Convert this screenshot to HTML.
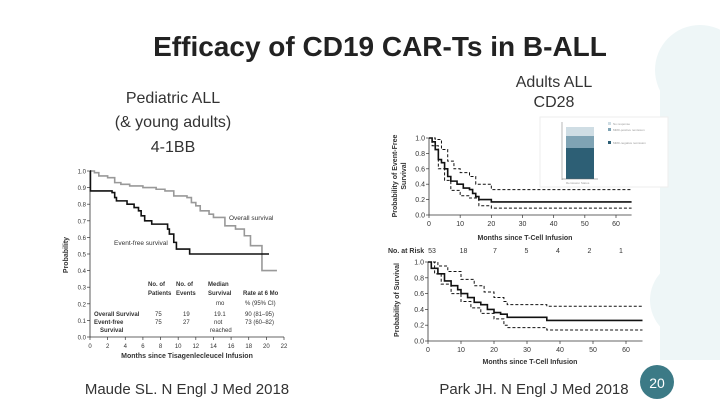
<!DOCTYPE html>
<html><head><meta charset="utf-8"><style>
body{margin:0;width:720px;height:405px;overflow:hidden;background:#fff;font-family:"Liberation Sans",sans-serif}
svg{position:absolute;left:0;top:0}
</style></head><body>
<svg id="s" width="720" height="405" viewBox="0 0 720 405">
<g fill="#eef6f7">
<circle cx="700" cy="70" r="45"/><circle cx="705" cy="190" r="45"/><circle cx="690" cy="300" r="40"/><rect x="660" y="70" width="60" height="290"/>
</g>
<rect x="150" y="160" width="160" height="190" fill="#fff"/>
<rect x="390" y="110" width="250" height="260" fill="#fff"/>
<text x="380" y="56" text-anchor="middle" font-size="28" font-weight="bold" fill="#222" font-family="Liberation Sans">Efficacy of CD19 CAR-Ts in B-ALL</text>
<g font-size="16" fill="#333" text-anchor="middle">
<text x="173" y="103">Pediatric ALL</text><text x="173" y="127">(&amp; young adults)</text><text x="173" y="152">4-1BB</text></g>
<g font-size="16" fill="#333" text-anchor="middle">
<text x="554" y="87">Adults ALL</text><text x="554" y="107">CD28</text></g>
<text x="187" y="394" text-anchor="middle" font-size="15" fill="#333">Maude SL. N Engl J Med 2018</text>
<text x="534" y="394" text-anchor="middle" font-size="15" fill="#333">Park JH. N Engl J Med 2018</text>
<circle cx="657" cy="382" r="17" fill="#3c7a86"/>
<text x="657" y="388" text-anchor="middle" font-size="14" fill="#fff">20</text>
<g id="L"></g><g id="R1"></g><g id="R2"></g>
<g>
<rect x="540" y="117" width="128" height="70" fill="#fff" stroke="#eee"/>
<line x1="562" y1="122" x2="562" y2="180" stroke="#888" stroke-width="0.6"/>
<rect x="566" y="127" width="28" height="9" fill="#cfdde4"/>
<rect x="566" y="136" width="28" height="12" fill="#7fa3b4"/>
<rect x="566" y="148" width="28" height="31" fill="#2d5f75"/>
<line x1="562" y1="179" x2="598" y2="179" stroke="#666" stroke-width="0.6"/>
<rect x="608" y="122" width="3" height="3" fill="#cfdde4"/><rect x="608" y="128" width="3" height="3" fill="#7fa3b4"/><rect x="608" y="141" width="3" height="3" fill="#2d5f75"/>
<g fill="#999" font-size="3"><text x="613" y="125">No response</text><text x="613" y="131">MRD-positive remission</text><text x="613" y="144">MRD-negative remission</text><text x="566" y="184">Remission Status</text></g>
</g>
</svg>
<script>
// Left chart data (Maude 2018)
const osX=[0,0.5,1,2,2.8,3.5,4.5,6,7.5,8.5,9.5,11,11.5,12,12.5,13.5,14,15.3,16.5,17.5,18.2,19.5,21.2];
const osY=[1.0,0.99,0.97,0.96,0.93,0.92,0.91,0.90,0.89,0.88,0.85,0.84,0.81,0.79,0.76,0.74,0.72,0.67,0.65,0.61,0.55,0.40,0.40];
const efsX=[0,0.05,2.5,2.8,3.0,4.2,5.0,5.5,5.8,6.2,7,8.8,9,9.5,9.8,11.3,20.3];
const efsY=[1.0,0.88,0.87,0.84,0.82,0.80,0.78,0.76,0.73,0.70,0.68,0.65,0.62,0.57,0.53,0.50,0.50];
const leftXTicks=[0,2,4,6,8,10,12,14,16,18,20,22];
const leftYTicks=[0,0.1,0.2,0.3,0.4,0.5,0.6,0.7,0.8,0.9,1.0];
// Right top (EFS, Park 2018)
const rEfsX=[0,1,2,3,4,5,6,7,9,11,13,14,15,16,20,65];
const rEfsY=[1,0.95,0.85,0.72,0.68,0.6,0.5,0.44,0.4,0.35,0.33,0.28,0.24,0.2,0.17,0.17];
const rEfsUpX=[0,2,4,6,8,10,13,15,20,65];
const rEfsUpY=[1,0.98,0.85,0.7,0.6,0.55,0.5,0.4,0.33,0.33];
const rEfsLoX=[0,1,3,5,7,10,13,16,20,65];
const rEfsLoY=[1,0.9,0.6,0.45,0.32,0.25,0.22,0.12,0.09,0.09];
// Right bottom (OS)
const rOsX=[0,1,3,5,7,9,10,12,14,16,18,20,22,24,36,65];
const rOsY=[1,0.92,0.85,0.76,0.7,0.65,0.6,0.55,0.49,0.46,0.40,0.36,0.34,0.30,0.26,0.26];
const rOsUpX=[0,3,6,10,14,17,20,23,24,36,65];
const rOsUpY=[1,0.95,0.88,0.78,0.7,0.62,0.55,0.5,0.46,0.44,0.44];
const rOsLoX=[0,2,4,7,10,13,16,20,23,24,36,65];
const rOsLoY=[1,0.85,0.72,0.6,0.5,0.42,0.35,0.28,0.2,0.17,0.14,0.14];
const rightXTicks=[0,10,20,30,40,50,60];
const rightYTicks=[0,0.2,0.4,0.6,0.8,1.0];
const atRisk=[53,18,7,5,4,2,1];

const NS="http://www.w3.org/2000/svg";
function mk(p,t,a,txt){const e=document.createElementNS(NS,t);for(const k in a)e.setAttribute(k,a[k]);if(txt!=null)e.textContent=txt;p.appendChild(e);return e;}
function step(xs,ys,sx,sy){let d="M"+sx(xs[0])+","+sy(ys[0]);for(let i=1;i<xs.length;i++){d+="H"+sx(xs[i])+"V"+sy(ys[i]);}return d;}
function axes(g,sx,sy,xt,yt,x0,x1,fs,fmt){
  const ax=mk(g,"path",{d:`M${sx(x0)},${sy(1)}V${sy(0)}H${sx(x1)}`,fill:"none",stroke:"#333","stroke-width":0.8});
  
  xt.forEach(v=>{mk(g,"line",{x1:sx(v),x2:sx(v),y1:sy(0),y2:sy(0)+3,stroke:"#333","stroke-width":0.7});
    const t=mk(g,"text",{x:sx(v),y:sy(0)+11,"font-size":fs,"text-anchor":"middle",fill:"#333"},v);
    });
  yt.forEach(v=>{mk(g,"line",{x1:sx(0)-3,x2:sx(0),y1:sy(v),y2:sy(v),stroke:"#333","stroke-width":0.7});
    const t=mk(g,"text",{x:sx(0)-4,y:sy(v)+2.5,"font-size":fs,"text-anchor":"end",fill:"#333"},fmt(v));
    });
}
function line(g,xs,ys,sx,sy,stroke,w,dash,name){
  const p=mk(g,"path",{d:step(xs,ys,sx,sy),fill:"none",stroke:stroke,"stroke-width":w});
  if(dash)p.setAttribute("stroke-dasharray",dash);
  
}
// Left
(function(){
  const g=document.getElementById("L");
  
  const sx=v=>90+v*(194/22), sy=v=>337-v*166;
  axes(g,sx,sy,leftXTicks,leftYTicks,0,22,6,v=>v.toFixed(1));
  line(g,osX,osY,sx,sy,"#999",1.6,null,"overall-survival-line");
  line(g,efsX,efsY,sx,sy,"#111",1.6,null,"event-free-survival-line");
  const yt=mk(g,"text",{x:0,y:0,"font-size":7,"font-weight":"bold",transform:"translate(68,255) rotate(-90)","text-anchor":"middle",fill:"#333"},"Probability");
  
  const xt=mk(g,"text",{x:187,y:358,"font-size":7,"font-weight":"bold","text-anchor":"middle",fill:"#333"},"Months since Tisagenlecleucel Infusion");
  
  mk(g,"text",{x:229,y:220,"font-size":6.5,fill:"#333"},"Overall survival");
  mk(g,"text",{x:114,y:245,"font-size":6.5,fill:"#333"},"Event-free survival");
  const rows=[[148,286,"No. of"],[176,286,"No. of"],[208,286,"Median"],[148,295,"Patients"],[176,295,"Events"],[208,295,"Survival"],[243,295,"Rate at 6 Mo"]];
  rows.forEach(r=>mk(g,"text",{x:r[0],y:r[1],"font-size":6,"font-weight":"bold",fill:"#333"},r[2]));
  mk(g,"text",{x:216,y:305,"font-size":6,fill:"#333"},"mo");mk(g,"text",{x:245,y:305,"font-size":6,fill:"#333"},"% (95% CI)");
  [["Overall Survival","75","19","19.1","90 (81–95)",316],["Event-free","75","27","not","73 (60–82)",324]].forEach(r=>{
    mk(g,"text",{x:94,y:r[5],"font-size":6,"font-weight":"bold",fill:"#333"},r[0]);
    mk(g,"text",{x:155,y:r[5],"font-size":6,fill:"#333"},r[1]);mk(g,"text",{x:183,y:r[5],"font-size":6,fill:"#333"},r[2]);
    mk(g,"text",{x:214,y:r[5],"font-size":6,fill:"#333"},r[3]);mk(g,"text",{x:245,y:r[5],"font-size":6,fill:"#333"},r[4]);});
  mk(g,"text",{x:100,y:332,"font-size":6,"font-weight":"bold",fill:"#333"},"Survival");mk(g,"text",{x:210,y:332,"font-size":6,fill:"#333"},"reached");
})();
// Right top
(function(){
  const g=document.getElementById("R1");
  
  const sx=v=>429+v*(187/60), sy=v=>215-v*77;
  axes(g,sx,sy,rightXTicks,rightYTicks,0,65,7,v=>v.toFixed(1));
  line(g,rEfsUpX,rEfsUpY,sx,sy,"#111",1,"3,2","efs-upper-ci");
  line(g,rEfsLoX,rEfsLoY,sx,sy,"#111",1,"3,2","efs-lower-ci");
  line(g,rEfsX,rEfsY,sx,sy,"#111",1.6,null,"efs-line");
  const yt=mk(g,"text",{x:0,y:0,"font-size":7,"font-weight":"bold",transform:"translate(397,176) rotate(-90)","text-anchor":"middle",fill:"#333"},"Probability of Event-Free");
  
  mk(g,"text",{x:0,y:0,"font-size":7,"font-weight":"bold",transform:"translate(406,176) rotate(-90)","text-anchor":"middle",fill:"#333"},"Survival");
  const xt=mk(g,"text",{x:525,y:240,"font-size":7,"font-weight":"bold","text-anchor":"middle",fill:"#333"},"Months since T-Cell Infusion");
  
})();
// Right bottom
(function(){
  const g=document.getElementById("R2");
  
  const sx=v=>428+v*(198/60), sy=v=>341-v*79;
  axes(g,sx,sy,rightXTicks,rightYTicks,0,65,7,v=>v.toFixed(1));
  line(g,rOsUpX,rOsUpY,sx,sy,"#111",1,"3,2","os-upper-ci");
  line(g,rOsLoX,rOsLoY,sx,sy,"#111",1,"3,2","os-lower-ci");
  line(g,rOsX,rOsY,sx,sy,"#111",1.6,null,"os-line");
  const yt=mk(g,"text",{x:0,y:0,"font-size":7,"font-weight":"bold",transform:"translate(399,300) rotate(-90)","text-anchor":"middle",fill:"#333"},"Probability of Survival");
  
  const xt=mk(g,"text",{x:530,y:364,"font-size":7,"font-weight":"bold","text-anchor":"middle",fill:"#333"},"Months since T-Cell Infusion");
  
  const lab=mk(g,"text",{x:388,y:253,"font-size":7,"font-weight":"bold",fill:"#333"},"No. at Risk");
  
  atRisk.forEach((v,i)=>{const t=mk(g,"text",{x:432+rightXTicks[i]*(189/60),y:253,"font-size":7,"text-anchor":"middle",fill:"#333"},v);
    });
})();
</script>
</body></html>
